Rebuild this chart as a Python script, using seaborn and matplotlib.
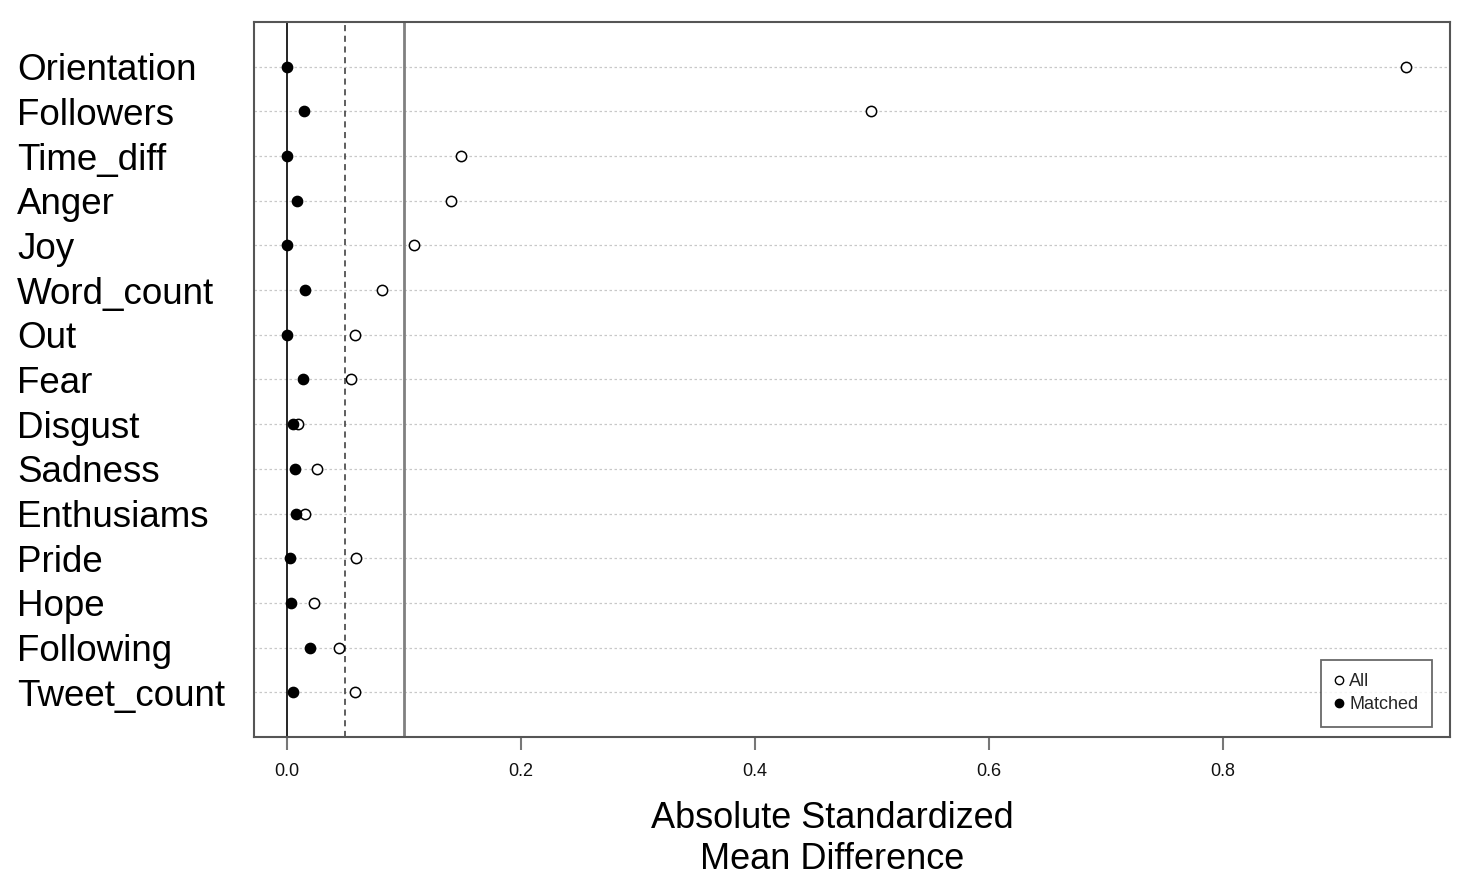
import pandas as pd
import matplotlib.pyplot as plt
from matplotlib.lines import Line2D
import seaborn as sns

# covariates, top to bottom
variables = ["Orientation", "Followers", "Time_diff", "Anger", "Joy", "Word_count",
             "Out", "Fear", "Disgust", "Sadness", "Enthusiams", "Pride", "Hope",
             "Following", "Tweet_count"]
# absolute standardized mean differences
smd_all = [0.956, 0.499, 0.149, 0.140, 0.109, 0.081, 0.058, 0.055, 0.010,
           0.026, 0.016, 0.059, 0.023, 0.045, 0.058]
smd_matched = [0.000, 0.015, 0.000, 0.009, 0.000, 0.016, 0.000, 0.014, 0.005,
               0.007, 0.008, 0.003, 0.004, 0.020, 0.005]
x_ticks = [0.0, 0.2, 0.4, 0.6, 0.8]
ref_lines = [0.05, 0.1]

df = pd.DataFrame({"variable": variables, "All": smd_all, "Matched": smd_matched})

sns.set_theme(style="white")
plt.rcParams['font.family'] = ['Liberation Sans', 'DejaVu Sans']

fig = plt.figure(figsize=(14.7, 8.88), dpi=100)
ax = fig.add_axes([254 / 1470, 1 - 737 / 888, 1196 / 1470, 715 / 888])

# dotted row guides
for i in range(len(variables)):
    ax.axhline(i, color="#c8c8c8", linestyle=(0, (2, 2)), linewidth=0.9, zorder=0)

ax.axvline(0, color="black", linewidth=1.2, zorder=1)
ax.axvline(ref_lines[0], color="#333333", linestyle=(0, (4, 3)), linewidth=1.1, zorder=1)
ax.axvline(ref_lines[1], color="#808080", linewidth=2.0, zorder=1)

sns.scatterplot(data=df, x="All", y="variable", ax=ax, s=55, marker="o",
                facecolor="white", edgecolor="black", linewidth=1.1, zorder=3)
sns.scatterplot(data=df, x="Matched", y="variable", ax=ax, s=55, marker="o",
                color="black", edgecolor="black", linewidth=1.0, zorder=4)

ax.set_ylim(len(variables), -1)
ax.set_xlim(-0.028, 0.994)
ax.set_xticks(x_ticks)
ax.set_xticklabels([f"{t:.1f}" for t in x_ticks], fontsize=13, color="#111111")
ax.tick_params(axis="x", bottom=True, length=9, width=1.5, color="#777777", pad=10)
ax.tick_params(axis="y", left=False, pad=164.5, labelsize=26.5, labelcolor="black")
for lab in ax.get_yticklabels():
    lab.set_ha("left")

for sp in ax.spines.values():
    sp.set_color("#555555")
    sp.set_linewidth(1.5)

ax.set_ylabel("")
ax.set_xlabel("Absolute Standardized\nMean Difference", fontsize=26, linespacing=1.2,
              color="black")
ax.xaxis.set_label_coords(578 / 1196, -0.090)

handles = [
    Line2D([], [], marker="o", linestyle="none", markerfacecolor="white",
           markeredgecolor="black", markersize=6),
    Line2D([], [], marker="o", linestyle="none", markerfacecolor="black",
           markeredgecolor="black", markersize=6),
]
leg = ax.legend(handles, ["All", "Matched"], loc="lower right", fontsize=13,
                frameon=True, fancybox=False, handletextpad=0.3, handlelength=0.5,
                borderpad=0.75, labelspacing=0.35, borderaxespad=0,
                bbox_to_anchor=(0.985, 0.014))
leg.get_frame().set_edgecolor("#444444")
leg.get_frame().set_linewidth(1.3)

plt.savefig("out.png", dpi=100)
